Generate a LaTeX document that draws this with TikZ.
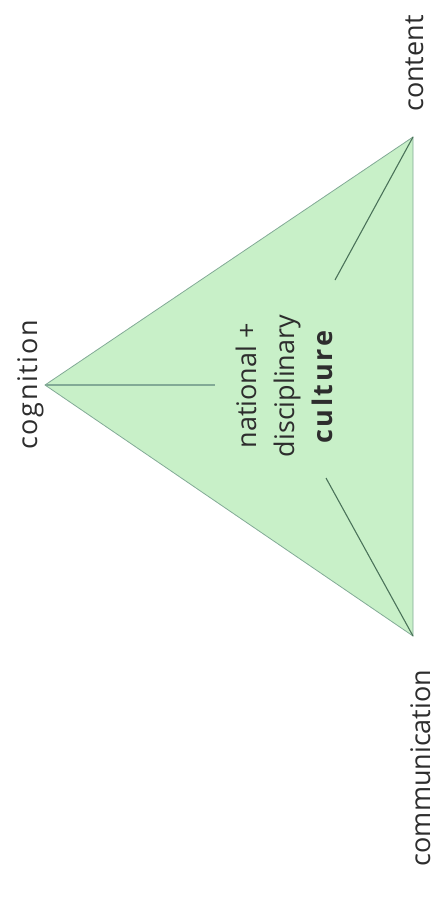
\documentclass[tikz,border=0pt]{standalone}
\usepackage{fontspec}
\setmainfont{Open Sans}
\usetikzlibrary{positioning}
\definecolor{trifill}{RGB}{200,240,200}
\definecolor{triedge}{RGB}{130,170,150}
\definecolor{spoke}{RGB}{75,115,90}
\definecolor{labeltext}{RGB}{45,45,45}

\begin{document}
\begin{tikzpicture}[x=1pt,y=-1pt,
  corner/.style={rotate=90,text=labeltext,inner sep=0pt},
  spokeline/.style={draw=spoke,line width=1.1pt}]
  \useasboundingbox (0,0) rectangle (435,897);
  % triangle corners
  \coordinate (cog) at (45,385);
  \coordinate (con) at (413,137);
  \coordinate (com) at (413,636);
  \filldraw[fill=trifill,draw=triedge,line width=0.8pt] (cog) -- (con) -- (com) -- cycle;
  % inner spokes
  \coordinate (cogend) at (215,385);
  \coordinate (conend) at (335,280);
  \coordinate (comend) at (326,478);
  \draw[spokeline,draw=triedge] (cog) -- (cogend);
  \draw[spokeline] (con) -- (conend);
  \draw[spokeline] (com) -- (comend);
  % labels
  \node[corner,anchor=base,font=\fontsize{27}{32}\selectfont\addfontfeature{LetterSpace=6}] (coglabel) at (37,385) {cognition};
  \node[corner,anchor=base west,font=\fontsize{27}{32}\selectfont] (conlabel) at (423,112) {content};
  \node[corner,anchor=base,font=\fontsize{27}{30}\selectfont] (comlabel) at (430,768) {communication};
  \node[corner,align=center,font=\fontsize{27}{38}\selectfont] (mid) at (284,386)
    {national +\\disciplinary\\{\addfontfeature{LetterSpace=10}\textbf{culture}}};
\end{tikzpicture}
\end{document}
